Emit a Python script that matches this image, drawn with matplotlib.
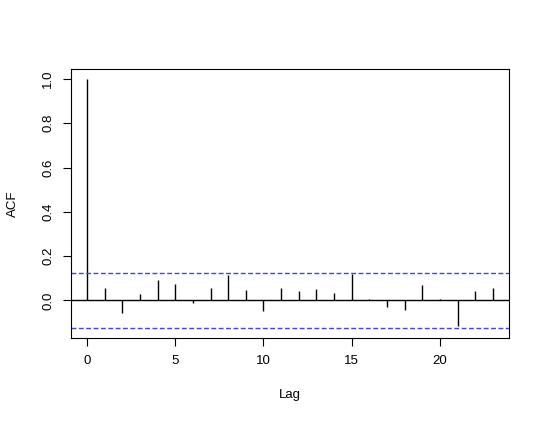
import numpy as np
import matplotlib.pyplot as plt

plt.rcParams['font.family'] = ['Liberation Sans', 'DejaVu Sans']

lags = list(range(24))
acf = [1.0, 0.056, -0.057, 0.030, 0.093, 0.072, -0.011, 0.054, 0.115, 0.045,
       -0.048, 0.057, 0.041, 0.050, 0.032, 0.118, 0.005, -0.032, -0.044, 0.068,
       0.005, -0.116, 0.041, 0.057]
ci = 0.125

fig = plt.figure(figsize=(5.45, 4.25), dpi=100)
ax = fig.add_axes([0.130, 0.2047, 0.804, 0.633])

ax.vlines(lags, 0, acf, color='black', linewidth=1)
ax.axhline(0, color='black', linewidth=1)
ax.axhline(ci, color='#4040ff', linestyle=(0, (3.5, 1.8)), linewidth=1)
ax.axhline(-ci, color='#4040ff', linestyle=(0, (3.5, 1.8)), linewidth=1)

ax.set_xlim(-0.92, 23.92)
ax.set_ylim(-0.17, 1.045)
ax.set_xticks([0, 5, 10, 15, 20])
ax.set_yticks([0.0, 0.2, 0.4, 0.6, 0.8, 1.0])
ax.set_yticklabels(['0.0', '0.2', '0.4', '0.6', '0.8', '1.0'], rotation=90, va='center')
ax.tick_params(labelsize=9.5, length=6, width=0.8, pad=6)
for s in ax.spines.values():
    s.set_linewidth(0.8)

ax.set_xlabel('Lag', fontsize=9.5, labelpad=16)
ax.set_ylabel('ACF', fontsize=9.5, labelpad=17)

fig.savefig('out.png', dpi=100)
